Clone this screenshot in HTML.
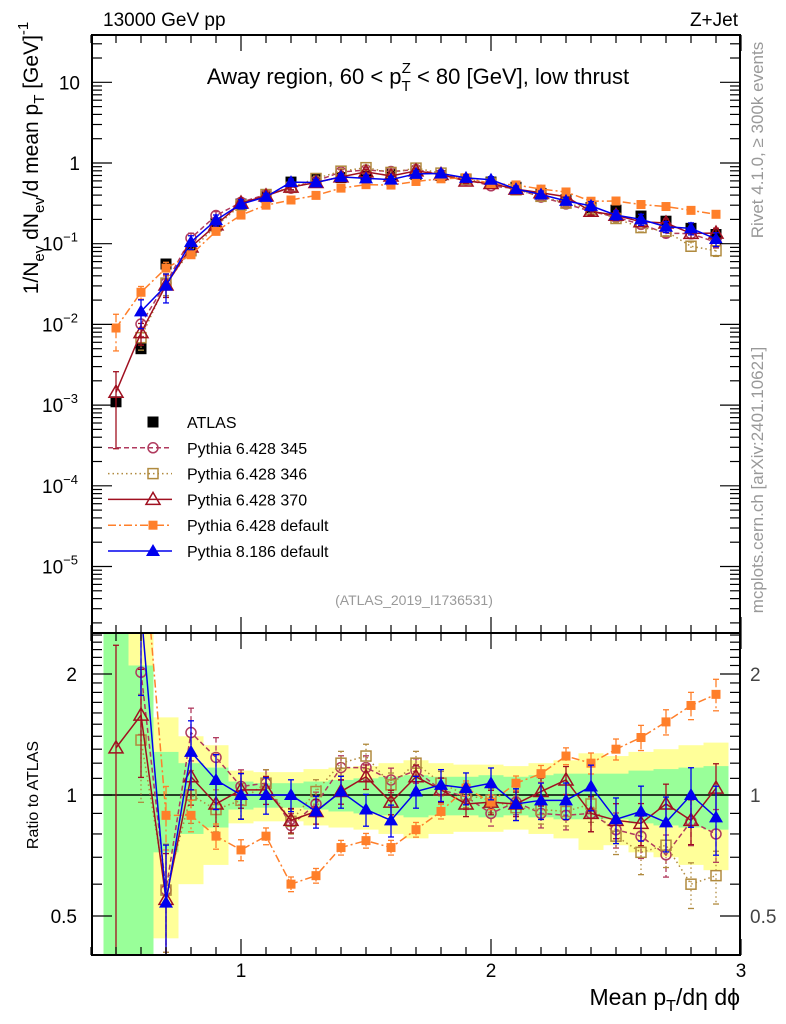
<!DOCTYPE html>
<html><head><meta charset="utf-8"><style>
html,body{margin:0;padding:0;background:#fff;overflow:hidden;width:786px;height:1024px;}
svg{display:block;font-family:"Liberation Sans",sans-serif;}
</style></head><body>
<svg id="c" width="786" height="1024" viewBox="0 0 786 1024" xmlns="http://www.w3.org/2000/svg">
<defs>
<clipPath id="cm"><rect x="92" y="35" width="648" height="598"/></clipPath>
<clipPath id="cr"><rect x="92" y="633" width="648" height="322"/></clipPath>
</defs>
<g id="bands" clip-path="url(#cr)"></g>
<g id="grid"></g>
<g id="mainMarks" clip-path="url(#cm)"></g>
<g id="ratioMarks" clip-path="url(#cr)"></g>
<g id="axes"></g>
<text x="103" y="26" font-size="19">13000 GeV pp</text>
<text x="738" y="26" font-size="19" text-anchor="end">Z+Jet</text>
<text x="418" y="84" font-size="22" text-anchor="middle">Away region, 60 &lt; p<tspan font-size="15" dy="7">T</tspan><tspan font-size="15" dx="-9" dy="-18">Z</tspan><tspan dy="11"> &lt; 80 [GeV], low thrust</tspan></text>
<text x="414" y="605" font-size="14" fill="#999" text-anchor="middle">(ATLAS_2019_I1736531)</text>
<text transform="translate(763,140) rotate(-90)" font-size="17" fill="#999" text-anchor="middle">Rivet 4.1.0, ≥ 300k events</text>
<text transform="translate(763,480) rotate(-90)" font-size="17" fill="#999" text-anchor="middle">mcplots.cern.ch [arXiv:2401.10621]</text>
<text transform="translate(38,158) rotate(-90)" font-size="21" text-anchor="middle">1/N<tspan font-size="15" dy="6">ev</tspan><tspan dy="-6"> dN</tspan><tspan font-size="15" dy="6">ev</tspan><tspan dy="-6">/d mean p</tspan><tspan font-size="15" dy="6">T</tspan><tspan dy="-6"> [GeV]</tspan><tspan font-size="15" dy="-10">-1</tspan></text>
<text transform="translate(38,795) rotate(-90)" font-size="16" text-anchor="middle">Ratio to ATLAS</text>
<text x="740" y="1005" font-size="23" text-anchor="end">Mean p<tspan font-size="16" dy="6">T</tspan><tspan dy="-6">/dη dϕ</tspan></text>
<g id="legend"></g>
</svg>
<script>
const xBins=[0.5,0.6,0.7,0.8,0.9,1.0,1.1,1.2,1.3,1.4,1.5,1.6,1.7,1.8,1.9,2.0,2.1,2.2,2.3,2.4,2.5,2.6,2.7,2.8,2.9];
const atlasVals=[0.0011,0.005,0.056,0.082,0.18,0.31,0.38,0.58,0.63,0.66,0.7,0.72,0.72,0.7,0.63,0.58,0.5,0.42,0.35,0.28,0.26,0.22,0.19,0.155,0.13];
const yellowErr=[2,2,0.56,0.4,0.33,0.15,0.14,0.14,0.16,0.17,0.18,0.2,0.22,0.2,0.19,0.19,0.18,0.2,0.22,0.27,0.25,0.28,0.3,0.33,0.35];
const greenErr=[2,1.1,0.28,0.2,0.17,0.08,0.07,0.07,0.08,0.09,0.1,0.11,0.12,0.11,0.11,0.12,0.11,0.12,0.13,0.13,0.13,0.15,0.16,0.17,0.18];
const ratio345=[null,2.02,0.58,1.43,1.24,1.05,1.07,0.84,0.95,1.17,1.17,1.09,1.15,1.03,0.99,0.9,0.96,0.9,0.89,0.9,0.82,0.79,0.71,0.86,0.8];
const ratio346=[null,1.37,0.58,1.0,0.92,0.97,1.07,0.86,1.02,1.2,1.25,1.06,1.2,1.07,1.0,0.97,0.93,0.92,0.91,0.95,0.79,0.72,0.75,0.6,0.63];
const ratio370=[1.31,1.58,0.55,1.11,0.95,1.03,1.03,0.865,0.91,1.02,1.11,0.96,1.11,1.03,0.95,0.96,0.95,1.02,1.09,0.9,0.865,0.85,0.95,0.865,1.04];
const ratioDef=[8.2,5.0,0.89,0.89,0.79,0.73,0.79,0.6,0.63,0.74,0.77,0.74,0.82,0.91,1.04,0.96,1.07,1.13,1.25,1.2,1.3,1.39,1.52,1.67,1.78];
const ratioP8=[null,2.9,0.54,1.28,1.09,1.0,1.0,1.0,0.91,1.02,0.92,0.865,1.02,1.06,1.04,1.07,0.95,0.97,0.97,1.05,0.87,0.91,0.855,1.0,0.88];
const mcErr=[0.8,0.3,0.3,0.15,0.12,0.1,0.08,0.07,0.07,0.07,0.07,0.07,0.07,0.07,0.07,0.07,0.07,0.08,0.08,0.1,0.1,0.12,0.12,0.13,0.15];
const mainTicks=["10","1","10^−1","10^−2","10^−3","10^−4","10^−5"];
const ratioTickLabels=["2","1","0.5"];
const xTickLabels=["1","2","3"];

const NS="http://www.w3.org/2000/svg";
const X=v=>241+250*(v-1);
const YM=v=>163-80.7*Math.log10(v);
const YR=r=>795-121*Math.log2(r);
function mk(tag,attrs,parent){const e=document.createElementNS(NS,tag);for(const k in attrs)e.setAttribute(k,attrs[k]);parent.appendChild(e);return e;}
const bands=document.getElementById('bands'),axes=document.getElementById('axes');
xBins.forEach((b,i)=>{
  const x0=X(b-0.05),x1=X(b+0.05);
  let lo=Math.max(1-yellowErr[i],0.01),hi=1+yellowErr[i];
  let r=mk('rect',{x:x0,y:YR(hi),width:x1-x0,height:YR(lo)-YR(hi),fill:'#ffff99'},bands);
  
  
  lo=Math.max(1-greenErr[i],0.01);hi=1+greenErr[i];
  r=mk('rect',{x:x0,y:YR(hi),width:x1-x0,height:YR(lo)-YR(hi),fill:'#99ff99'},bands);
  
  
});
mk('line',{x1:92,x2:740,y1:YR(1),y2:YR(1),stroke:'#000','stroke-width':1.5},bands);
mk('rect',{x:92,y:35,width:648,height:598,fill:'none',stroke:'#000','stroke-width':2},axes);
mk('rect',{x:92,y:633,width:648,height:322,fill:'none',stroke:'#000','stroke-width':2},axes);
for(let k=4;k<=30;k++){const v=k/10,x=X(v),maj=(k%10===0),L=maj?16:8;
  [[35,1],[633,-1],[633,1],[955,-1]].forEach(([y,d])=>mk('line',{x1:x,x2:x,y1:y,y2:y+d*L,stroke:'#000','stroke-width':1.2},axes));}
xTickLabels.forEach((t,i)=>{const e=mk('text',{x:X(i+1),y:977,'font-size':19,'text-anchor':'middle'},axes);e.textContent=t;
  
  });
for(let d=-6;d<=1;d++){for(let m=1;m<=9;m++){const v=m*Math.pow(10,d),y=YM(v);if(y<35||y>633)continue;const L=m===1?20:10;
  mk('line',{x1:92,x2:92+L,y1:y,y2:y,stroke:'#000','stroke-width':1.2},axes);
  mk('line',{x1:740,x2:740-L,y1:y,y2:y,stroke:'#000','stroke-width':1.2},axes);}}
mainTicks.forEach((t,i)=>{const y=YM(Math.pow(10,1-i))+7;const e=mk('text',{x:80,y:y,'font-size':19,'text-anchor':'end'},axes);
  
  
  if(t.includes('^')){const p=t.split('^');e.textContent=p[0];const s=mk('tspan',{'font-size':13,dy:-9},e);s.textContent=p[1];e.setAttribute('x',78);}
  else e.textContent=t;});
for(let k=4;k<=25;k++){const r=k/10,y=YR(r);if(y<633||y>955)continue;const L=(k===5||k===10||k===20)?20:10;
  mk('line',{x1:92,x2:92+L,y1:y,y2:y,stroke:'#000','stroke-width':1.2},axes);
  mk('line',{x1:740,x2:740-L,y1:y,y2:y,stroke:'#000','stroke-width':1.2},axes);}
const rv=[2,1,0.5];
ratioTickLabels.forEach((t,i)=>{const y=YR(rv[i])+7;
  let e=mk('text',{x:77,y:y,'font-size':19,'text-anchor':'end'},axes);e.textContent=t;
  
  
  e=mk('text',{x:750,y:y,'font-size':19,fill:'#444'},axes);e.textContent=t;
  
  });
const series=[
 {name:'pythia-6-345',label:'Pythia 6.428 345',r:ratio345,col:'#b03a5e',dash:'5,3',mark:'circle',ef:1},
 {name:'pythia-6-346',label:'Pythia 6.428 346',r:ratio346,col:'#b08a3e',dash:'1.5,3',mark:'osquare',ef:1},
 {name:'pythia-6-370',label:'Pythia 6.428 370',r:ratio370,col:'#a01020',dash:'',mark:'otri',ef:1},
 {name:'pythia-6-default',label:'Pythia 6.428 default',r:ratioDef,col:'#ff7f2a',dash:'8,3,2,3',mark:'fsquare',ef:0.6},
 {name:'pythia-8-default',label:'Pythia 8.186 default',r:ratioP8,col:'#0000ee',dash:'',mark:'ftri',ef:1.3}];
function marker(g,kind,x,y,col){
  let e;
  if(kind==='circle')e=mk('circle',{cx:x,cy:y,r:5,fill:'none',stroke:col,'stroke-width':1.5},g);
  else if(kind==='osquare')e=mk('rect',{x:x-5,y:y-5,width:10,height:10,fill:'none',stroke:col,'stroke-width':1.5},g);
  else if(kind==='fsquare')e=mk('rect',{x:x-4.5,y:y-4.5,width:9,height:9,fill:col},g);
  else if(kind==='bsquare')e=mk('rect',{x:x-5.5,y:y-5.5,width:11,height:11,fill:col},g);
  else if(kind==='otri')e=mk('polygon',{points:`${x},${y-7} ${x-7},${y+5} ${x+7},${y+5}`,fill:'none',stroke:col,'stroke-width':1.5},g);
  else e=mk('polygon',{points:`${x},${y-7} ${x-7},${y+5} ${x+7},${y+5}`,fill:col},g);
  return e;}
const gm=document.getElementById('mainMarks'),gr=document.getElementById('ratioMarks');
atlasVals.forEach((v,i)=>{const m=marker(gm,'bsquare',X(xBins[i]),YM(v),'#000');
  
  });
series.forEach(s=>{
  ['main','ratio'].forEach(panel=>{
    const g=panel==='main'?gm:gr;
    const pts=[];
    s.r.forEach((r,i)=>{if(r==null)return;const x=X(xBins[i]);
      const y=panel==='main'?YM(r*atlasVals[i]):YR(r);
      const e=Math.min(mcErr[i]*s.ef,0.9);
      const y1=panel==='main'?YM(r*atlasVals[i]*(1+e)):YR(r*(1+e));
      const y2=panel==='main'?YM(r*atlasVals[i]*(1-e)):YR(r*(1-e));
      pts.push([x,y,y1,y2]);});
    const pl=mk('polyline',{points:pts.map(p=>p[0]+','+p[1]).join(' '),fill:'none',stroke:s.col,'stroke-width':1.5,'stroke-dasharray':s.dash},g);
    
    
    pts.forEach(p=>{
      mk('line',{x1:p[0],x2:p[0],y1:p[2],y2:p[3],stroke:s.col,'stroke-width':1.3,'stroke-dasharray':s.dash},g);
      mk('line',{x1:p[0]-3,x2:p[0]+3,y1:p[2],y2:p[2],stroke:s.col,'stroke-width':1.3},g);
      mk('line',{x1:p[0]-3,x2:p[0]+3,y1:p[3],y2:p[3],stroke:s.col,'stroke-width':1.3},g);
      const m=marker(g,s.mark,p[0],p[1],s.col);
      
      });
  });
});
const lg=document.getElementById('legend');
const rows=[{label:'ATLAS',mark:'bsquare',col:'#000',dash:null}].concat(series);
rows.forEach((s,i)=>{const y=422+i*25.8;
  const g=mk('g',{},lg);
  
  
  if(s.dash!==null)mk('line',{x1:108,x2:172,y1:y,y2:y,stroke:s.col,'stroke-width':1.5,'stroke-dasharray':s.dash},g);
  marker(g,s.mark,153,y,s.col);
  const t=mk('text',{x:187,y:y+6,'font-size':16},g);t.textContent=s.label;});
</script>
</body></html>
